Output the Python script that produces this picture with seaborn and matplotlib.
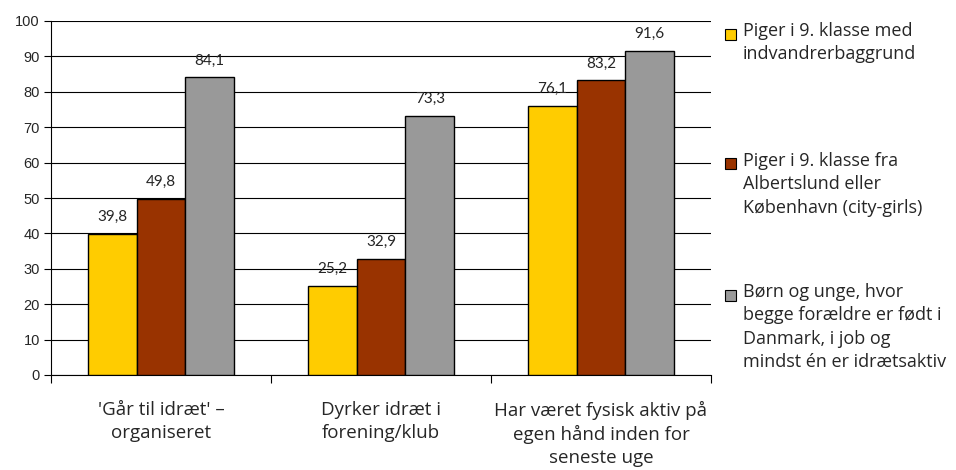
import pandas as pd
import seaborn as sns
import matplotlib.pyplot as plt
from matplotlib.patches import Rectangle

categories = ["'Går til idræt' –\norganiseret", "Dyrker idræt i\nforening/klub",
              "Har været fysisk aktiv på\negen hånd inden for\nseneste uge"]
series = ["Piger i 9. klasse med\nindvandrerbaggrund",
          "Piger i 9. klasse fra\nAlbertslund eller\nKøbenhavn (city-girls)",
          "Børn og unge, hvor\nbegge forældre er født i\nDanmark, i job og\nmindst én er idrætsaktiv"]
values = [[39.8, 25.2, 76.1],
          [49.8, 32.9, 83.2],
          [84.1, 73.3, 91.6]]
colors = ["#FFCC00", "#993300", "#999999"]
yticks = [0, 10, 20, 30, 40, 50, 60, 70, 80, 90, 100]

rows = []
for s, vals in zip(series, values):
    for c, v in zip(categories, vals):
        rows.append({"cat": c, "series": s, "val": v})
df = pd.DataFrame(rows)

sns.set_style("white")
plt.rcParams['font.family'] = ['Open Sans', 'DejaVu Sans']

fig = plt.figure(figsize=(9.56, 4.7), dpi=100)
ax = fig.add_axes([51 / 956, 95 / 470, 660 / 956, 354 / 470])

sns.barplot(data=df, x="cat", y="val", hue="series", palette=colors,
            width=0.664, gap=0, edgecolor="black", linewidth=1,
            saturation=1, legend=False, ax=ax, zorder=3)

for cont in ax.containers:
    ax.bar_label(cont, labels=[f"{v:.1f}".replace(".", ",") for v in cont.datavalues],
                 padding=7, fontsize=11, fontfamily=["Lato", "DejaVu Sans"])

ax.set_ylim(0, 100)
ax.set_xlim(-0.5, 2.5)
ax.set_yticks(yticks)
ax.set_yticklabels([str(t) for t in yticks], fontfamily="Liberation Sans", fontsize=10.5)
ax.yaxis.grid(True, color="black", linewidth=0.8, zorder=0)
ax.set_axisbelow(True)
ax.tick_params(axis="y", length=5, width=0.8, color="black", pad=3, left=True)
ax.set_xticks([0, 1, 2])
ax.set_xticklabels(categories, fontsize=13.5, linespacing=1.32)
ax.tick_params(axis="x", length=0, pad=19)
ax.set_xticks([-0.5, 0.5, 1.5, 2.5], minor=True)
ax.tick_params(axis="x", which="minor", length=6, width=0.8, color="black", bottom=True)
ax.set_xlabel("")
ax.set_ylabel("")
for side in ["top", "right"]:
    ax.spines[side].set_visible(False)
for side in ["left", "bottom"]:
    ax.spines[side].set_color("black")
    ax.spines[side].set_linewidth(0.8)

# legend on the right
tops = [34, 164, 295]
for s, col, y in zip(series, colors, tops):
    fig.patches.append(Rectangle((725 / 956, 1 - (y + 5.5) / 470), 11 / 956, 11 / 470,
                                 transform=fig.transFigure, facecolor=col,
                                 edgecolor="black", linewidth=0.8))
    fig.text(743 / 956, 1 - (y - 12) / 470, s, fontsize=13, va="top", ha="left",
             linespacing=1.38)

fig.savefig("out.png", dpi=100)
